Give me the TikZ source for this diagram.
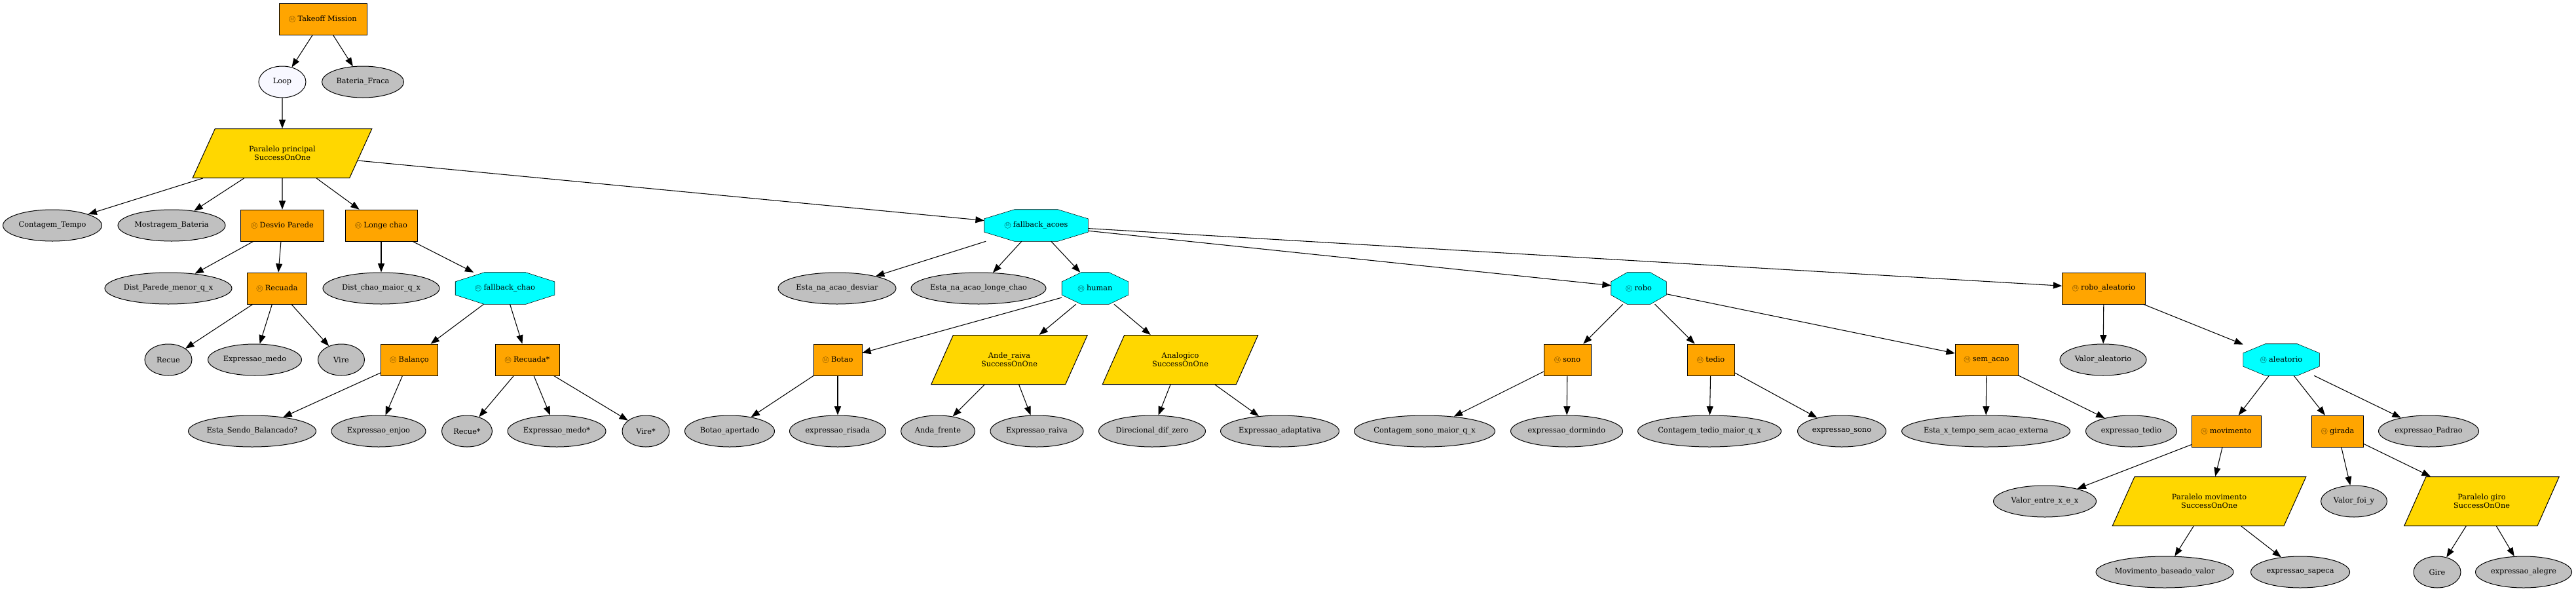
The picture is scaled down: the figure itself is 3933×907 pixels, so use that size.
\documentclass[tikz,border=0pt]{standalone}
\usepackage{fontspec}
\setmainfont{DejaVu Serif}
\usepackage{xcolor}
\usetikzlibrary{arrows.meta}
\usetikzlibrary{calc}
\usetikzlibrary{shapes.geometric}
\pgfdeclarelayer{background}
\pgfsetlayers{background,main}

\definecolor{seqorange}{HTML}{FFA500}
\definecolor{pargold}{HTML}{FFD700}
\definecolor{fbcyan}{HTML}{00FFFF}
\definecolor{condgray}{HTML}{C0C0C0}
\definecolor{loopwhite}{HTML}{F8F8FF}

% small circled M in front of the control nodes
\newcommand{\mmark}[1]{\tikz[baseline=-0.55ex]\node[circle, draw=#1, text=#1, line width=0.35pt,
  inner sep=0.4pt, minimum size=7pt, font=\fontsize{4.5}{5}\selectfont]{M};\ }
\newcommand{\Mor}{\mmark{seqorange!55!black}}
\newcommand{\Mcy}{\mmark{fbcyan!45!black}}

\tikzset{
  every node/.style={font=\fontsize{8.5}{10}\selectfont, inner sep=1pt},
  span/.style={minimum width=#1*0.75pt},
  cond/.style={ellipse, draw, fill=condgray, minimum height=36pt,
    execute at begin node={\setbox0=\hbox\bgroup},
    execute at end node={\egroup\makebox[0pt]{\box0}}},
  seq/.style={rectangle, draw, fill=seqorange, minimum height=36pt},
  fb/.style={rectangle, minimum height=36pt},
  parl/.style={trapezium, trapezium left angle=55, trapezium right angle=125,
    trapezium stretches=true, draw, fill=pargold, minimum height=56.25pt, align=center},
  link/.style={-{Triangle[length=10pt,width=7.5pt]}, line width=0.8pt},
}

\begin{document}
\begin{tikzpicture}[x=0.75pt, y=-0.75pt, line width=0.75pt]
  \useasboundingbox (0,0) rectangle (3933,907);

  % top
  \node[seq, span=134] (takeoff) at (493,29) {\Mor Takeoff Mission};
  \node[cond, span=72, fill=loopwhite] (loop) at (431,125) {Loop};
  \node[cond, span=125] (bateria) at (554,125) {Bateria\_Fraca};
  \node[parl, span=274] (parprinc) at (431,234) {Paralelo principal\\SuccessOnOne};

  % row 4
  \node[cond, span=151] (contTempo) at (80,344) {Contagem\_Tempo};
  \node[cond, span=164] (mostBat) at (262,344) {Mostragem\_Bateria};
  \node[seq, span=127] (desvio) at (431,344) {\Mor Desvio Parede};
  \node[seq, span=110] (longe) at (582,344) {\Mor Longe chao};
  \node[fb, span=158] (fbacoes) at (1582,344) {\Mcy fallback\_acoes};

  % row 5
  \node[cond, span=194] (distPar) at (257,440) {Dist\_Parede\_menor\_q\_x};
  \node[seq, span=91] (recuada) at (423,440) {\Mor Recuada};
  \node[cond, span=178] (distChao) at (582,440) {Dist\_chao\_maior\_q\_x};
  \node[fb, span=151] (fbchao) at (771,440) {\Mcy fallback\_chao};
  \node[cond, span=180] (naDesviar) at (1278,440) {Esta\_na\_acao\_desviar};
  \node[cond, span=206] (naLonge) at (1494,440) {Esta\_na\_acao\_longe\_chao};
  \node[fb, span=101] (human) at (1672,440) {\Mcy human};
  \node[fb, span=84] (robo) at (2502,440) {\Mcy robo};
  \node[seq, span=127] (roboAleat) at (3212,440) {\Mor robo\_aleatorio};

  % row 6
  \node[cond, span=72] (recue) at (257,549) {Recue};
  \node[cond, span=143] (exMedo) at (389,549) {Expressao\_medo};
  \node[cond, span=71] (vire) at (521,549) {Vire};
  \node[seq, span=87] (balanco) at (625,549) {\Mor Balanço};
  \node[seq, span=98] (recuadaS) at (805,549) {\Mor Recuada*};
  \node[seq, span=74] (botao) at (1279,549) {\Mor Botao};
  \node[parl, span=239] (andeRaiva) at (1541,549) {Ande\_raiva\\SuccessOnOne};
  \node[parl, span=238] (analogico) at (1802,549) {Analogico\\SuccessOnOne};
  \node[seq, span=72] (sono) at (2393,549) {\Mor sono};
  \node[seq, span=72] (tedio) at (2612,549) {\Mor tedio};
  \node[seq, span=96] (semAcao) at (3033,549) {\Mor sem\_acao};
  \node[cond, span=132] (valorAleat) at (3211,549) {Valor\_aleatorio};
  \node[fb, span=116] (aleatorio) at (3483,549) {\Mcy aleatorio};

  % row 7
  \node[cond, span=195] (estaBal) at (385,658) {Esta\_Sendo\_Balancado?};
  \node[cond, span=144] (exEnjoo) at (578,658) {Expressao\_enjoo};
  \node[cond, span=77] (recueS) at (713,658) {Recue*};
  \node[cond, span=150] (exMedoS) at (850,658) {Expressao\_medo*};
  \node[cond, span=72] (vireS) at (986,658) {Vire*};
  \node[cond, span=137] (botaoAp) at (1114,658) {Botao\_apertado};
  \node[cond, span=147] (exRisada) at (1279,658) {expressao\_risada};
  \node[cond, span=113] (andaFrente) at (1432,658) {Anda\_frente};
  \node[cond, span=142] (exRaiva) at (1583,658) {Expressao\_raiva};
  \node[cond, span=163] (direcional) at (1759,658) {Direcional\_dif\_zero};
  \node[cond, span=181] (exAdapt) at (1954,658) {Expressao\_adaptativa};
  \node[cond, span=215] (contSono) at (2175,658) {Contagem\_sono\_maior\_q\_x};
  \node[cond, span=171] (exDormindo) at (2392,658) {expressao\_dormindo};
  \node[cond, span=219] (contTedio) at (2610,658) {Contagem\_tedio\_maior\_q\_x};
  \node[cond, span=135] (exSono) at (2812,658) {expressao\_sono};
  \node[cond, span=257] (estaX) at (3032,658) {Esta\_x\_tempo\_sem\_acao\_externa};
  \node[cond, span=139] (exTedio) at (3254,658) {expressao\_tedio};
  \node[seq, span=106] (movimento) at (3399,658) {\Mor movimento};
  \node[seq, span=79] (girada) at (3569,658) {\Mor girada};
  \node[cond, span=153] (exPadrao) at (3708,658) {expressao\_Padrao};

  % row 8
  \node[cond, span=157] (valEntre) at (3122,765) {Valor\_entre\_x\_e\_x};
  \node[parl, span=296] (parMov) at (3373,765) {Paralelo movimento\\SuccessOnOne};
  \node[cond, span=101] (valFoi) at (3594,765) {Valor\_foi\_y};
  \node[parl, span=237] (parGiro) at (3789,765) {Paralelo giro\\SuccessOnOne};

  % row 9
  \node[cond, span=210] (movBase) at (3305,873) {Movimento\_baseado\_valor};
  \node[cond, span=151] (exSapeca) at (3512,873) {expressao\_sapeca};
  \node[cond, span=72] (gire) at (3721,873) {Gire};
  \node[cond, span=147] (exAlegre) at (3853,873) {expressao\_alegre};

  % fallback octagons behind their labels
  \begin{pgfonlayer}{background}
    \foreach \n in {fbacoes, fbchao, human, robo, aleatorio}
      \draw[fill=fbcyan] ($(\n.north west)!0.29!(\n.north east)$) -- ($(\n.north west)!0.71!(\n.north east)$)
        -- ($(\n.north east)!0.29!(\n.south east)$) -- ($(\n.north east)!0.71!(\n.south east)$)
        -- ($(\n.south west)!0.71!(\n.south east)$) -- ($(\n.south west)!0.29!(\n.south east)$)
        -- ($(\n.north west)!0.71!(\n.south west)$) -- ($(\n.north west)!0.29!(\n.south west)$) -- cycle;
  \end{pgfonlayer}

  % edges
  \draw[link] (takeoff) -- (loop);
  \draw[link] (takeoff) -- (bateria);
  \draw[link] (loop) -- (parprinc);
  \draw[link] (parprinc) -- (contTempo);
  \draw[link] (parprinc) -- (mostBat);
  \draw[link] (parprinc) -- (desvio);
  \draw[link] (parprinc) -- (longe);
  \draw[link] (parprinc) -- (fbacoes);
  \draw[link] (desvio) -- (distPar);
  \draw[link] (desvio) -- (recuada);
  \draw[link] (recuada) -- (recue);
  \draw[link] (recuada) -- (exMedo);
  \draw[link] (recuada) -- (vire);
  \draw[link] (longe) -- (distChao);
  \draw[link] (longe) -- (fbchao);
  \draw[link] (fbchao) -- (balanco);
  \draw[link] (fbchao) -- (recuadaS);
  \draw[link] (balanco) -- (estaBal);
  \draw[link] (balanco) -- (exEnjoo);
  \draw[link] (recuadaS) -- (recueS);
  \draw[link] (recuadaS) -- (exMedoS);
  \draw[link] (recuadaS) -- (vireS);
  \draw[link] (fbacoes) -- (naDesviar);
  \draw[link] (fbacoes) -- (naLonge);
  \draw[link] (fbacoes) -- (human);
  \draw[link] (fbacoes) -- (robo);
  \draw[link] (fbacoes) -- (roboAleat);
  \draw[link] (human) -- (botao);
  \draw[link] (human) -- (andeRaiva);
  \draw[link] (human) -- (analogico);
  \draw[link] (botao) -- (botaoAp);
  \draw[link] (botao) -- (exRisada);
  \draw[link] (andeRaiva) -- (andaFrente);
  \draw[link] (andeRaiva) -- (exRaiva);
  \draw[link] (analogico) -- (direcional);
  \draw[link] (analogico) -- (exAdapt);
  \draw[link] (robo) -- (sono);
  \draw[link] (robo) -- (tedio);
  \draw[link] (robo) -- (semAcao);
  \draw[link] (sono) -- (contSono);
  \draw[link] (sono) -- (exDormindo);
  \draw[link] (tedio) -- (contTedio);
  \draw[link] (tedio) -- (exSono);
  \draw[link] (semAcao) -- (estaX);
  \draw[link] (semAcao) -- (exTedio);
  \draw[link] (roboAleat) -- (valorAleat);
  \draw[link] (roboAleat) -- (aleatorio);
  \draw[link] (aleatorio) -- (movimento);
  \draw[link] (aleatorio) -- (girada);
  \draw[link] (aleatorio) -- (exPadrao);
  \draw[link] (movimento) -- (valEntre);
  \draw[link] (movimento) -- (parMov);
  \draw[link] (parMov) -- (movBase);
  \draw[link] (parMov) -- (exSapeca);
  \draw[link] (girada) -- (valFoi);
  \draw[link] (girada) -- (parGiro);
  \draw[link] (parGiro) -- (gire);
  \draw[link] (parGiro) -- (exAlegre);
\end{tikzpicture}
\end{document}
